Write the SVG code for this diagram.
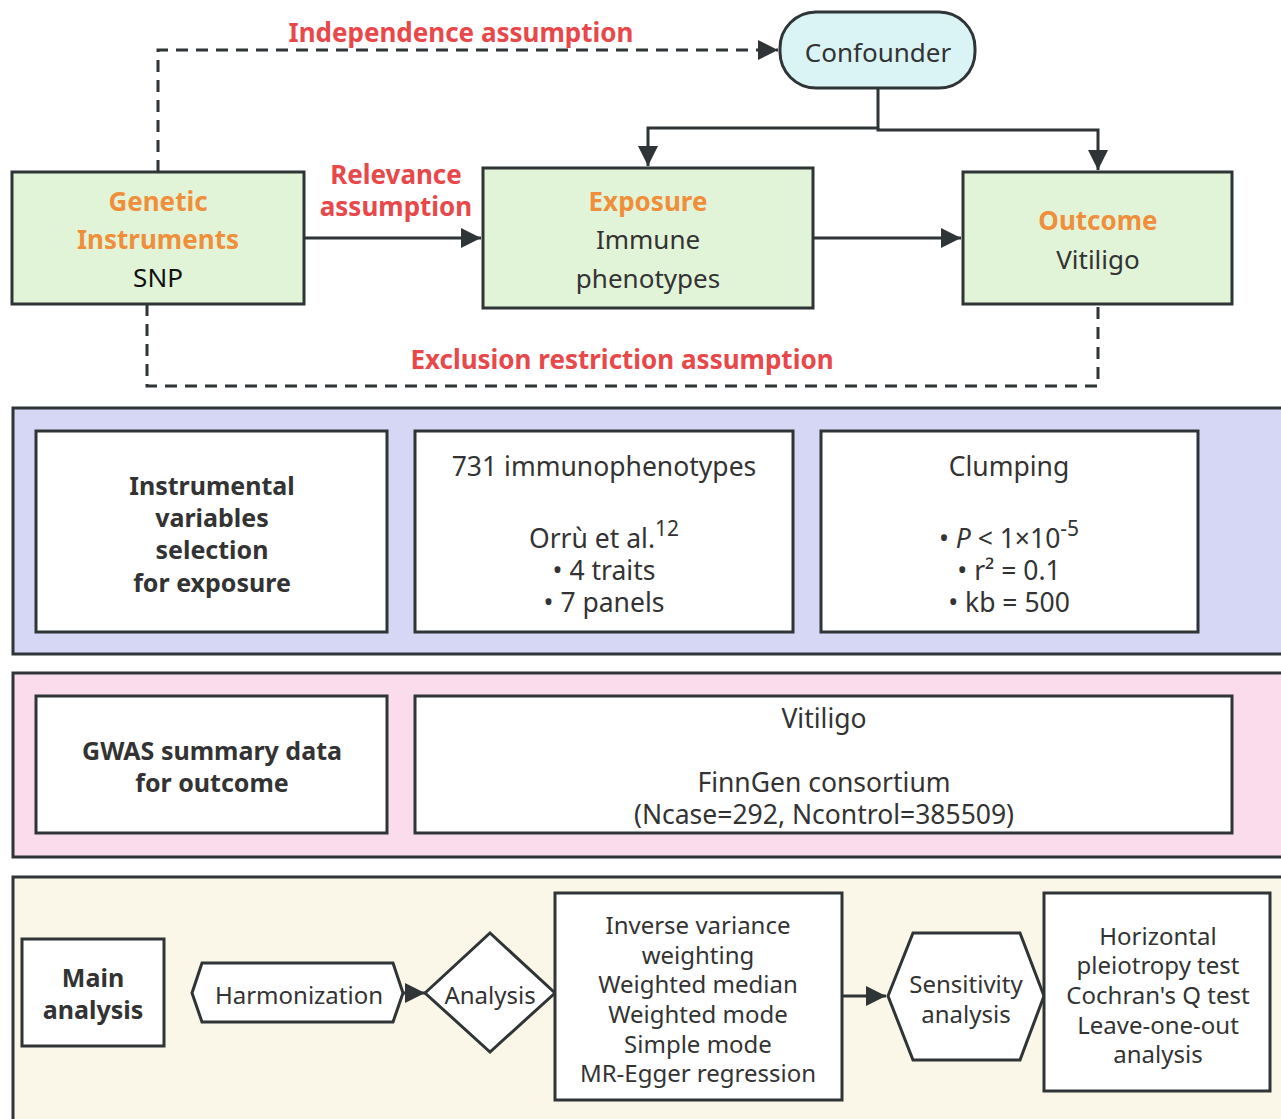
<svg xmlns="http://www.w3.org/2000/svg" width="1281" height="1119" viewBox="0 0 1281 1119">
<style>
text{font-family:"Noto Sans","Open Sans","Liberation Sans",sans-serif;font-size:25px;fill:#333;text-anchor:middle;dominant-baseline:central}
.b{font-weight:bold}
.m{font-size:26.5px}
.s{font-size:24px}
.red{fill:#e8484a;font-weight:bold;font-size:26px}
.or{fill:#ef8f3b;font-weight:bold;font-size:26px}
.g{fill:#e2f4d8;stroke:#2f3436;stroke-width:3}
.w{fill:#fff;stroke:#2f3436;stroke-width:3}
.ln{fill:none;stroke:#2f3436;stroke-width:3}
.d{fill:none;stroke:#2f3436;stroke-width:3;stroke-dasharray:12 8}
</style>
<defs>
<marker id="a" viewBox="0 0 10 10" refX="10" refY="5" markerWidth="24" markerHeight="20" markerUnits="userSpaceOnUse" orient="auto">
<path d="M0,0 L10,5 L0,10 Z" fill="#2f3436"/>
</marker>
</defs>
<rect width="1281" height="1119" fill="#fff"/>

<g id="panels">
<rect id="panel-iv" x="13" y="408" width="1280" height="246" fill="#d6d6f5" stroke="#2f3436" stroke-width="3"/>
<rect id="panel-gwas" x="13" y="673" width="1280" height="184" fill="#fadcec" stroke="#2f3436" stroke-width="3"/>
<rect id="panel-main" x="13" y="877" width="1280" height="260" fill="#fbf7e8" stroke="#2f3436" stroke-width="3"/>
</g>

<g id="connectors">
<path class="d" d="M158,172 V50 H778" marker-end="url(#a)"/>
<path class="d" d="M147,304 V386 H1098 V304"/>
<path class="ln" d="M304,238 H481" marker-end="url(#a)"/>
<path class="ln" d="M813,238 H961" marker-end="url(#a)"/>
<path class="ln" d="M878,88 V128 H648 V166" marker-end="url(#a)"/>
<path class="ln" d="M878,128 V130 H1098 V170" marker-end="url(#a)"/>
<path class="ln" d="M403,993 H425" marker-end="url(#a)"/>
<path class="ln" d="M842,996 H886" marker-end="url(#a)"/>
</g>

<g id="labels">
<text class="red" x="461" y="32">Independence assumption</text>
<text class="red" x="396" y="174">Relevance</text>
<text class="red" x="396" y="206">assumption</text>
<text class="red" x="622" y="359">Exclusion restriction assumption</text>
</g>

<g id="confounder">
<rect x="780" y="12" width="195" height="76" rx="36" fill="#daf3f5" stroke="#2f3436" stroke-width="3"/>
<text x="878" y="52" style="font-size:26px">Confounder</text>
</g>

<g id="genetic-instruments">
<rect class="g" x="12" y="172" width="292" height="132"/>
<text class="or" x="158" y="201">Genetic</text>
<text class="or" x="158" y="239">Instruments</text>
<text x="158" y="277" style="font-size:26px;fill:#111">SNP</text>
</g>

<g id="exposure">
<rect class="g" x="483" y="168" width="330" height="140"/>
<text class="or" x="648" y="201">Exposure</text>
<text x="648" y="239" style="font-size:26px">Immune</text>
<text x="648" y="278" style="font-size:26px">phenotypes</text>
</g>

<g id="outcome">
<rect class="g" x="963" y="172" width="269" height="132"/>
<text class="or" x="1098" y="220">Outcome</text>
<text x="1098" y="259" style="font-size:26px">Vitiligo</text>
</g>

<g id="iv-selection">
<rect class="w" x="36" y="431" width="351" height="201"/>
<text class="b" x="212" y="485">Instrumental<tspan x="212" dy="32">variables</tspan><tspan x="212" dy="32">selection</tspan><tspan x="212" dy="33">for exposure</tspan></text>
</g>

<g id="immunophenotypes">
<rect class="w" x="415" y="431" width="378" height="201"/>
<text class="m" x="604" y="466">731 immunophenotypes</text>
<text class="m" x="604" y="538">Orrù et al.<tspan dy="-10" style="font-size:21px">12</tspan><tspan x="604" dy="42">• 4 traits</tspan><tspan x="604" dy="32">• 7 panels</tspan></text>
</g>

<g id="clumping">
<rect class="w" x="821" y="431" width="377" height="201"/>
<text class="m" x="1009" y="466">Clumping</text>
<text class="m" x="1009" y="538">•  <tspan font-style="italic">P</tspan> &lt; 1×10<tspan dy="-10" style="font-size:21px">-5</tspan><tspan x="1009" dy="42">•  r² = 0.1</tspan><tspan x="1009" dy="32">•  kb = 500</tspan></text>
</g>

<g id="gwas-outcome">
<rect class="w" x="36" y="696" width="351" height="137"/>
<text class="b" x="212" y="750">GWAS summary data<tspan x="212" dy="32">for outcome</tspan></text>
</g>

<g id="finngen">
<rect class="w" x="415" y="696" width="817" height="137"/>
<text class="m" x="824" y="718">Vitiligo</text>
<text class="m" x="824" y="782">FinnGen consortium<tspan x="824" dy="32">(Ncase=292, Ncontrol=385509)</tspan></text>
</g>

<g id="main-analysis">
<rect class="w" x="22" y="939" width="142" height="107"/>
<text class="b" x="93" y="977">Main<tspan x="93" dy="32">analysis</tspan></text>
</g>

<g id="harmonization">
<polygon class="w" points="192,993 202,963 393,963 403,993 393,1022 202,1022"/>
<text class="s" x="299" y="994">Harmonization</text>
</g>

<g id="analysis">
<polygon class="w" points="425,993 490,933 555,993 490,1052"/>
<text class="s" x="490" y="994">Analysis</text>
</g>

<g id="methods">
<rect class="w" x="555" y="893" width="287" height="207"/>
<text class="s" x="698" y="924">Inverse variance<tspan x="698" dy="30">weighting</tspan><tspan x="698" dy="29">Weighted median</tspan><tspan x="698" dy="30">Weighted mode</tspan><tspan x="698" dy="30">Simple mode</tspan><tspan x="698" dy="29">MR-Egger regression</tspan></text>
</g>

<g id="sensitivity">
<polygon class="w" points="888,996 913,933 1020,933 1044,996 1020,1060 913,1060"/>
<text class="s" x="966" y="983">Sensitivity<tspan x="966" dy="30">analysis</tspan></text>
</g>

<g id="sensitivity-tests">
<rect class="w" x="1044" y="893" width="226" height="198"/>
<text class="s" x="1158" y="935">Horizontal<tspan x="1158" dy="29">pleiotropy test</tspan><tspan x="1158" dy="30">Cochran's Q test</tspan><tspan x="1158" dy="30">Leave-one-out</tspan><tspan x="1158" dy="29">analysis</tspan></text>
</g>
</svg>
